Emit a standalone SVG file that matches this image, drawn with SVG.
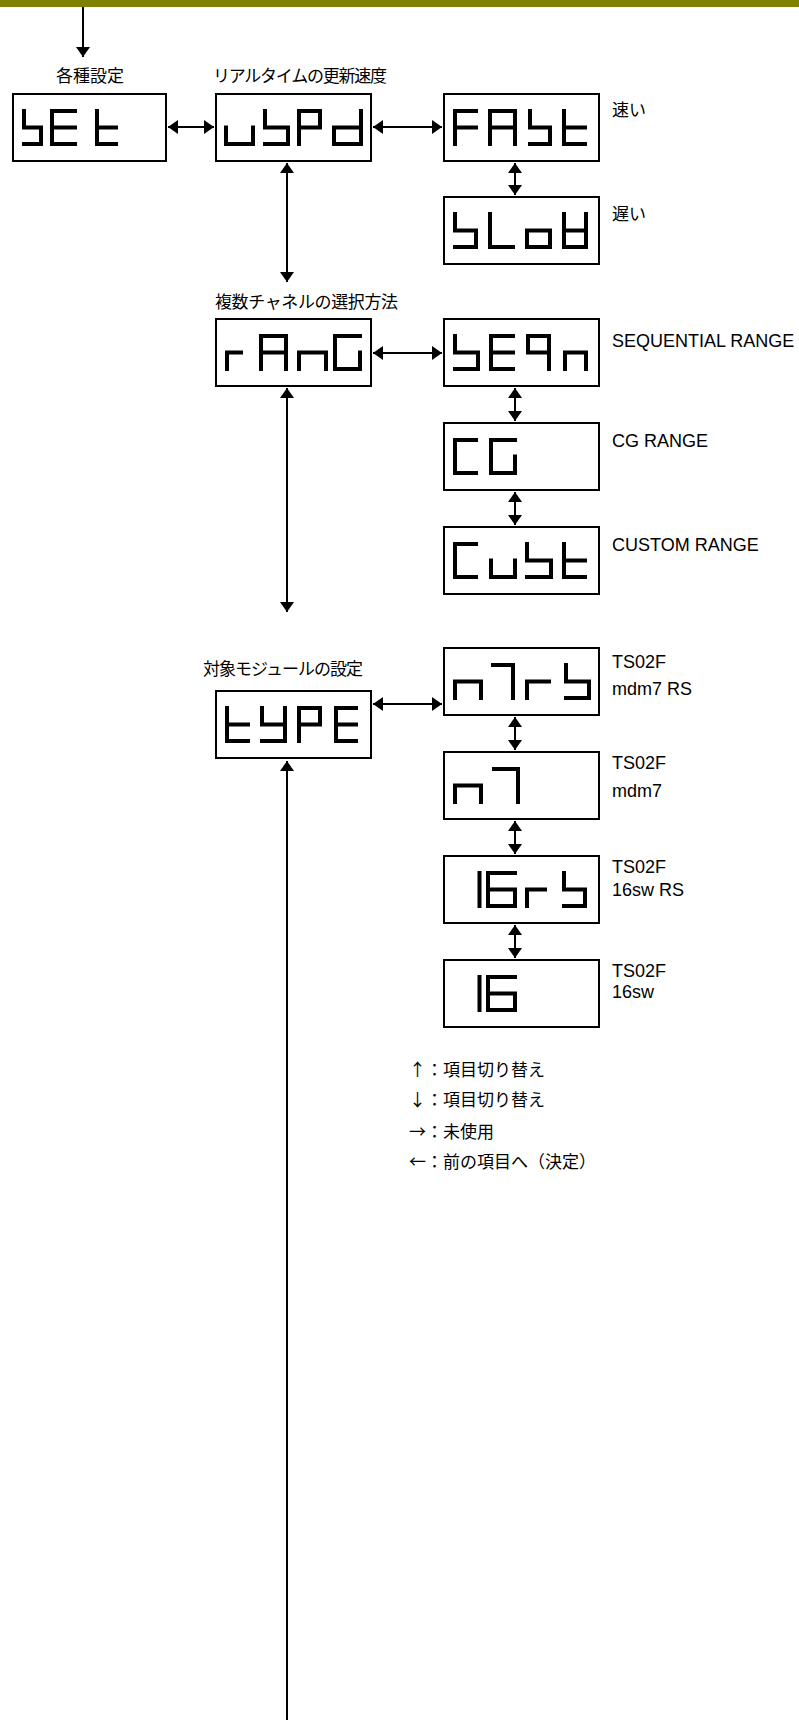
<svg xmlns="http://www.w3.org/2000/svg" width="799" height="1720" viewBox="0 0 799 1720">
<style>
.box{fill:#fff;stroke:#000;stroke-width:2}
.seg{fill:none;stroke:#000;stroke-width:4;stroke-linecap:square;stroke-linejoin:miter}
.jp{font-family:"Noto Sans CJK JP","Noto Sans",sans-serif;font-size:17px;fill:#000}
.en{font-family:"Liberation Sans",Arial,sans-serif;font-size:18px;fill:#000}
.conn{fill:none;stroke:#000;stroke-width:2}
.bi{marker-start:url(#ah);marker-end:url(#ah)}
</style>
<defs>
<marker id="ah" viewBox="0 0 10 14" refX="10" refY="7" markerWidth="10" markerHeight="14" markerUnits="userSpaceOnUse" orient="auto-start-reverse">
<path d="M0,0 L10,7 L0,14 Z" fill="#000"/>
</marker>
</defs>
<rect x="0" y="0" width="799" height="7" fill="#808000"/>

<g id="connectors">
<path class="conn" d="M83 7V57" marker-end="url(#ah)"/>
<path class="conn bi" d="M168 127H214"/>
<path class="conn bi" d="M373 127H442"/>
<path class="conn bi" d="M515 163V195"/>
<path class="conn bi" d="M287 163V282"/>
<path class="conn bi" d="M373 353H442"/>
<path class="conn bi" d="M515 388V421"/>
<path class="conn bi" d="M515 492V525"/>
<path class="conn bi" d="M287 388V612"/>
<path class="conn bi" d="M373 704H442"/>
<path class="conn bi" d="M515 717V750"/>
<path class="conn bi" d="M515 821V854"/>
<path class="conn bi" d="M515 925V958"/>
<path class="conn" d="M287 761V1720" marker-start="url(#ah)"/>
</g>

<g id="node-set">
<text class="jp" x="90" y="82" text-anchor="middle">各種設定</text>
<rect class="box" x="13" y="94" width="153" height="67"/>
<path class="seg" d="M24 111V127.5H41V144H24M75 111H52V144H75M52 127.5H75M97 111V144H116M97 127.5H116"/>
</g>

<g id="node-uspd">
<text class="jp" x="213" y="82" textLength="174">リアルタイムの更新速度</text>
<rect class="box" x="216" y="94" width="155" height="67"/>
<path class="seg" d="M226 127.5V144H253V127.5M265 111V127.5H288V144H265M299 144V111H320V127.5H299M361 111V144H334V127.5H361"/>
</g>

<g id="node-fast">
<rect class="box" x="444" y="94" width="155" height="67"/>
<path class="seg" d="M476 111H455V144M455 127.5H476M490 144V111H515V144M490 127.5H515M530 111V127.5H550V144H530M564 111V144H585M564 127.5H585"/>
<text class="jp" x="612" y="116">速い</text>
</g>

<g id="node-slow">
<rect class="box" x="444" y="197" width="155" height="67"/>
<path class="seg" d="M455 214V230.5H476V247H455M490 214V247H513M527 230.5H550V247H527ZM564 214V247H586V214M564 230.5H586"/>
<text class="jp" x="612" y="220">遅い</text>
</g>

<g id="node-rang">
<text class="jp" x="215" y="308" textLength="183">複数チャネルの選択方法</text>
<rect class="box" x="216" y="319" width="155" height="67"/>
<path class="seg" d="M227 369V352.5H241M261 369V336H286V369M261 352.5H286M299 369V352.5H326V369M360 352.5V369H335V336H360"/>
</g>

<g id="node-seqn">
<rect class="box" x="444" y="319" width="155" height="67"/>
<path class="seg" d="M455 336V352.5H478V369H455M513 336H491V369H513M491 352.5H513M549 369V336H528V352.5H549M565 369V352.5H586V369"/>
<text class="en" x="612" y="347">SEQUENTIAL RANGE</text>
</g>

<g id="node-cg">
<rect class="box" x="444" y="423" width="155" height="67"/>
<path class="seg" d="M476 440H455V473H476M515 456.5V473H491V440H515"/>
<text class="en" x="612" y="447">CG RANGE</text>
</g>

<g id="node-cust">
<rect class="box" x="444" y="527" width="155" height="67"/>
<path class="seg" d="M476 544H455V577H476M491 560.5V577H515V560.5M527 544V560.5H551V577H527M564 544V577H585M564 560.5H585"/>
<text class="en" x="612" y="551">CUSTOM RANGE</text>
</g>

<g id="node-type">
<text class="jp" x="203" y="675" textLength="160">対象モジュールの設定</text>
<rect class="box" x="216" y="691" width="155" height="67"/>
<path class="seg" d="M227 708V741H248M227 724.5H248M262 708V724.5H285M285 708V741H262M299 741V708H320V724.5H299M356 708H336V741H356M336 724.5H356"/>
</g>

<g id="node-n7rs">
<rect class="box" x="444" y="648" width="155" height="67"/>
<path class="seg" d="M455 698V681.5H481V698M493 665H513V698M527 698V681.5H549M566 665V681.5H589V698H566"/>
<text class="en" x="612" y="668">TS02F</text>
<text class="en" x="612" y="695">mdm7 RS</text>
</g>

<g id="node-n7">
<rect class="box" x="444" y="752" width="155" height="67"/>
<path class="seg" d="M455 802V785.5H481V802M494 769H518V802"/>
<text class="en" x="612" y="769">TS02F</text>
<text class="en" x="612" y="797">mdm7</text>
</g>

<g id="node-16rs">
<rect class="box" x="444" y="856" width="155" height="67"/>
<path class="seg" d="M479.5 873V906M515 873H488V906H515V889.5H488M527 906V889.5H545M564 873V889.5H585V906H564"/>
<text class="en" x="612" y="873">TS02F</text>
<text class="en" x="612" y="896">16sw RS</text>
</g>

<g id="node-16">
<rect class="box" x="444" y="960" width="155" height="67"/>
<path class="seg" d="M479.5 977V1010M515 977H488V1010H515V993.5H488"/>
<text class="en" x="612" y="977">TS02F</text>
<text class="en" x="612" y="998">16sw</text>
</g>

<g id="legend">
<text class="jp" x="409" y="1076">↑：項目切り替え</text>
<text class="jp" x="409" y="1106">↓：項目切り替え</text>
<text class="jp" x="409" y="1138">→：未使用</text>
<text class="jp" x="409" y="1168">←：前の項目へ（決定）</text>
</g>
</svg>
